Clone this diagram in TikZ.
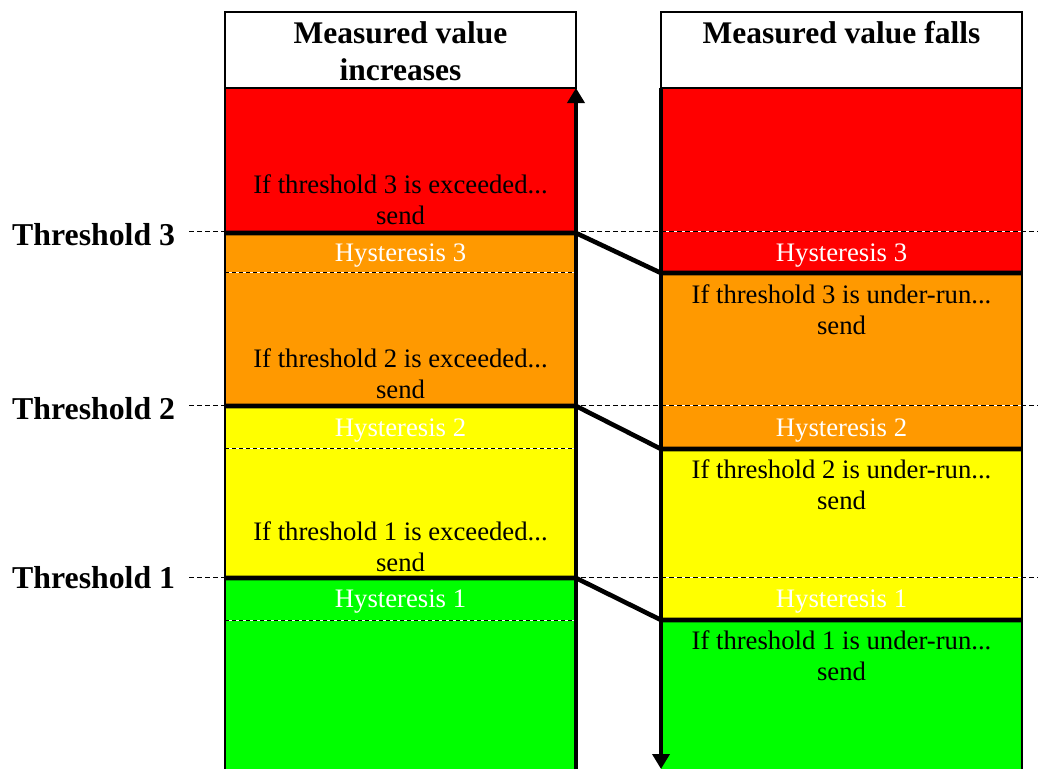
\documentclass[tikz,border=0pt]{standalone}
\usepackage{fontspec}
\setmainfont{Liberation Serif}
\usepackage{xcolor}
\usetikzlibrary{arrows.meta}

\definecolor{hotred}{HTML}{FF0000}
\definecolor{amber}{HTML}{FF9900}
\definecolor{lemon}{HTML}{FFFF00}
\definecolor{lime}{HTML}{00FF00}

\tikzset{
  frame/.style={draw=black, line width=1.6},
  limit/.style={line width=4.6, line join=round},
  flow/.style={line width=3.6, -{Triangle[length=15pt,width=17pt]}},
  thresh/.style={line width=0.9, dash pattern=on 5pt off 3pt},
  hyst/.style={line width=0.9, dash pattern=on 4pt off 3pt},
  msg/.style={font=\fontsize{26.7}{31}\selectfont, align=center, inner sep=0},
  hysttext/.style={msg, text=white},
  head/.style={font=\bfseries\fontsize{31.5}{36.6}\selectfont, align=center, inner sep=0},
  tlabel/.style={font=\bfseries\fontsize{31.8}{36}\selectfont, inner sep=0, anchor=west},
}

\begin{document}
\begin{tikzpicture}[x=1pt,y=-1pt]
\def\La{225}
\def\Lb{576}
\def\Ra{661}
\def\Rb{1022}
\def\Top{12}
\def\Head{88}
\def\Bot{769}

\useasboundingbox (0,0) rectangle (1038,769);

% Colour bands, value increases
\foreach \c/\ya/\yb in {hotred/88/233, amber/233/406, lemon/406/578, lime/578/769}
  \fill[\c] (\La,\ya) rectangle (\Lb,\yb);

% Colour bands, value falls
\foreach \c/\ya/\yb in {hotred/88/273, amber/273/449, lemon/449/620, lime/620/769}
  \fill[\c] (\Ra,\ya) rectangle (\Rb,\yb);

% Threshold lines
\foreach \y in {231,405,577} {
  \draw[white, line width=0.9] (189,\y) -- (1038,\y);
  \draw[thresh] (189,\y) -- (1038,\y);
}

% Hysteresis lines
\foreach \y in {272,448,620} {
  \draw[white, line width=0.9] (\La,\y) -- (\Lb,\y);
  \draw[hyst] (\La,\y) -- (\Lb,\y);
}

% Headers
\draw[frame] (\La,\Top) rectangle (\Lb,\Head);
\draw[frame] (\Ra,\Top) rectangle (\Rb,\Head);
\node[head] (incr) at (400.5,51) {Measured value\\increases};
\node[head] (fall) at (841.5,33) {Measured value falls};

% Outer borders
\draw[frame] (\La,\Head) -- (\La,\Bot);
\draw[frame] (\Rb,\Head) -- (\Rb,\Bot);

% Switching points and their links
\foreach \k/\ya/\yb in {3/233/273, 2/406/449, 1/578/620} {
  \coordinate (up\k) at (\Lb,\ya);
  \coordinate (dn\k) at (\Ra,\yb);
  \draw[limit] (\La,\ya) -- (up\k) -- (dn\k) -- (\Rb,\yb);
}

% Direction arrows
\draw[flow] (\Lb,\Bot) -- (\Lb,\Head);
\draw[flow] (\Ra,\Head) -- (\Ra,\Bot);

% Texts
\foreach \k/\y in {3/199.5, 2/374, 1/546.5}
  \node[msg] (ex\k) at (400.5,\y) {If threshold \k\ is exceeded...\\send};
\foreach \k/\y in {3/310, 2/485, 1/656}
  \node[msg] (un\k) at (841.5,\y) {If threshold \k\ is under-run...\\send};
\foreach \k/\y in {3/255.5, 2/430.5, 1/602} {
  \node[hysttext] (hl\k) at (400.5,\y) {Hysteresis \k};
  \node[hysttext] (hr\k) at (841.5,\y) {Hysteresis \k};
}
\foreach \k/\y in {3/234.5, 2/408.5, 1/577.5}
  \node[tlabel] (th\k) at (12,\y) {Threshold \k};
\end{tikzpicture}
\end{document}
